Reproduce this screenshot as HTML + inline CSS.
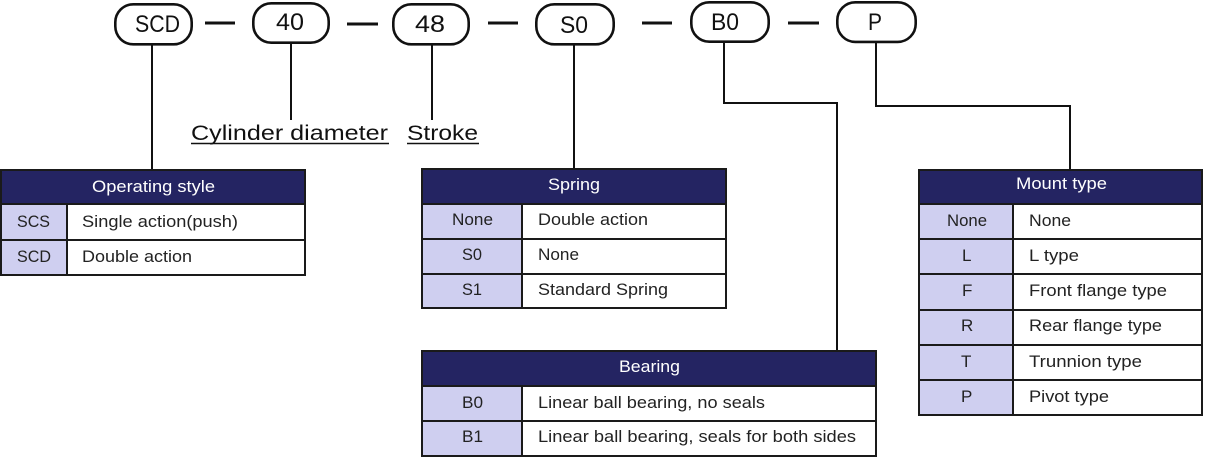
<!DOCTYPE html>
<html>
<head>
<meta charset="utf-8">
<style>
  html,body{margin:0;padding:0;background:#fff;}
  svg{display:block;}
  text{font-family:"Liberation Sans", sans-serif;}
</style>
</head>
<body>
<svg width="1205" height="459" viewBox="0 0 1205 459" xmlns="http://www.w3.org/2000/svg">
  <rect width="1205" height="459" fill="#fff"/>

  <!-- connectors -->
  <g stroke="#111" stroke-width="2" fill="none">
    <line x1="152" y1="45" x2="152" y2="170"/>
    <line x1="291" y1="43" x2="291" y2="120"/>
    <line x1="432" y1="45" x2="432" y2="120"/>
    <line x1="574" y1="45" x2="574" y2="169"/>
    <polyline points="724,42 724,103 837,103 837,351"/>
    <polyline points="876,42 876,106 1070,106 1070,170"/>
  </g>

  <!-- dashes -->
  <g stroke="#111" stroke-width="3">
    <line x1="205" y1="23" x2="235" y2="23"/>
    <line x1="347" y1="24" x2="378" y2="24"/>
    <line x1="488" y1="23" x2="518" y2="23"/>
    <line x1="642" y1="23" x2="672" y2="23"/>
    <line x1="788" y1="23" x2="819" y2="23"/>
  </g>

  <!-- pills -->
  <g stroke="#111" stroke-width="2.6" fill="#fff">
    <rect x="115.3" y="4.3" width="76.4" height="40" rx="18"/>
    <rect x="253.3" y="3.3" width="75.4" height="39.4" rx="18"/>
    <rect x="393.3" y="4.3" width="75.4" height="40" rx="18"/>
    <rect x="536.3" y="4.3" width="77.4" height="40" rx="18"/>
    <rect x="691.3" y="2.3" width="77.4" height="39.4" rx="18"/>
    <rect x="837.3" y="2.3" width="78.4" height="39.6" rx="18"/>
  </g>
  <g font-size="24" fill="#111">
    <text x="135" y="32" textLength="45" lengthAdjust="spacingAndGlyphs">SCD</text>
    <text x="276" y="30" textLength="28" lengthAdjust="spacingAndGlyphs">40</text>
    <text x="415" y="32" textLength="30" lengthAdjust="spacingAndGlyphs">48</text>
    <text x="560" y="33" textLength="28" lengthAdjust="spacingAndGlyphs">S0</text>
    <text x="711" y="30" textLength="28" lengthAdjust="spacingAndGlyphs">B0</text>
    <text x="868" y="30" textLength="14" lengthAdjust="spacingAndGlyphs">P</text>
  </g>

  <!-- labels -->
  <g font-size="21" fill="#111">
    <text x="191" y="140" textLength="197" lengthAdjust="spacingAndGlyphs">Cylinder diameter</text>
    <text x="407" y="140" textLength="71" lengthAdjust="spacingAndGlyphs">Stroke</text>
  </g>
  <g stroke="#111" stroke-width="1.5">
    <line x1="191" y1="143.5" x2="389" y2="143.5"/>
    <line x1="407" y1="143.5" x2="479" y2="143.5"/>
  </g>

  <!-- Operating style table -->
  <rect x="1" y="170" width="304" height="34" fill="#242462"/>
  <rect x="1" y="204" width="66" height="71" fill="#cfcff0"/>
  <g stroke="#1a1a1a" stroke-width="2" fill="none">
    <rect x="1" y="170" width="304" height="105"/>
    <line x1="1" y1="204" x2="305" y2="204"/>
    <line x1="1" y1="240" x2="305" y2="240"/>
    <line x1="67" y1="204" x2="67" y2="275"/>
  </g>
  <g font-size="17" fill="#222">
    <text x="92" y="192" fill="#fff" textLength="123" lengthAdjust="spacingAndGlyphs">Operating style</text>
    <text x="17" y="227" textLength="33" lengthAdjust="spacingAndGlyphs">SCS</text>
    <text x="82" y="227" textLength="156" lengthAdjust="spacingAndGlyphs">Single action(push)</text>
    <text x="17" y="262" textLength="34" lengthAdjust="spacingAndGlyphs">SCD</text>
    <text x="82" y="262" textLength="110" lengthAdjust="spacingAndGlyphs">Double action</text>
  </g>

  <!-- Spring table -->
  <rect x="422" y="169" width="304" height="35" fill="#242462"/>
  <rect x="422" y="204" width="100" height="104" fill="#cfcff0"/>
  <g stroke="#1a1a1a" stroke-width="2" fill="none">
    <rect x="422" y="169" width="304" height="139"/>
    <line x1="422" y1="204" x2="726" y2="204"/>
    <line x1="422" y1="239" x2="726" y2="239"/>
    <line x1="422" y1="274" x2="726" y2="274"/>
    <line x1="522" y1="204" x2="522" y2="308"/>
  </g>
  <g font-size="17" fill="#222">
    <text x="548" y="190" fill="#fff" textLength="52" lengthAdjust="spacingAndGlyphs">Spring</text>
    <text x="452" y="225" textLength="41" lengthAdjust="spacingAndGlyphs">None</text>
    <text x="538" y="225" textLength="110" lengthAdjust="spacingAndGlyphs">Double action</text>
    <text x="462" y="260" textLength="20" lengthAdjust="spacingAndGlyphs">S0</text>
    <text x="538" y="260" textLength="41" lengthAdjust="spacingAndGlyphs">None</text>
    <text x="462" y="295" textLength="20" lengthAdjust="spacingAndGlyphs">S1</text>
    <text x="538" y="295" textLength="130" lengthAdjust="spacingAndGlyphs">Standard Spring</text>
  </g>

  <!-- Bearing table -->
  <rect x="422" y="351" width="454" height="35" fill="#242462"/>
  <rect x="422" y="386" width="100" height="70" fill="#cfcff0"/>
  <g stroke="#1a1a1a" stroke-width="2" fill="none">
    <rect x="422" y="351" width="454" height="105"/>
    <line x1="422" y1="386" x2="876" y2="386"/>
    <line x1="422" y1="421" x2="876" y2="421"/>
    <line x1="522" y1="386" x2="522" y2="456"/>
  </g>
  <g font-size="17" fill="#222">
    <text x="619" y="372" fill="#fff" textLength="61" lengthAdjust="spacingAndGlyphs">Bearing</text>
    <text x="462" y="408" textLength="21" lengthAdjust="spacingAndGlyphs">B0</text>
    <text x="538" y="408" textLength="227" lengthAdjust="spacingAndGlyphs">Linear ball bearing, no seals</text>
    <text x="462" y="442" textLength="21" lengthAdjust="spacingAndGlyphs">B1</text>
    <text x="538" y="442" textLength="318" lengthAdjust="spacingAndGlyphs">Linear ball bearing, seals for both sides</text>
  </g>

  <!-- Mount type table -->
  <rect x="919" y="170" width="283" height="34" fill="#242462"/>
  <rect x="919" y="204" width="94" height="211" fill="#cfcff0"/>
  <g stroke="#1a1a1a" stroke-width="2" fill="none">
    <rect x="919" y="170" width="283" height="245"/>
    <line x1="919" y1="204" x2="1202" y2="204"/>
    <line x1="919" y1="239" x2="1202" y2="239"/>
    <line x1="919" y1="274" x2="1202" y2="274"/>
    <line x1="919" y1="310" x2="1202" y2="310"/>
    <line x1="919" y1="345" x2="1202" y2="345"/>
    <line x1="919" y1="380" x2="1202" y2="380"/>
    <line x1="1013" y1="204" x2="1013" y2="415"/>
  </g>
  <g font-size="17" fill="#222">
    <text x="1016" y="189" fill="#fff" textLength="91" lengthAdjust="spacingAndGlyphs">Mount type</text>
    <text x="947" y="226" textLength="40" lengthAdjust="spacingAndGlyphs">None</text>
    <text x="1029" y="226" textLength="42" lengthAdjust="spacingAndGlyphs">None</text>
    <text x="962" y="261">L</text>
    <text x="1029" y="261" textLength="50" lengthAdjust="spacingAndGlyphs">L type</text>
    <text x="962" y="296">F</text>
    <text x="1029" y="296" textLength="138" lengthAdjust="spacingAndGlyphs">Front flange type</text>
    <text x="961" y="331">R</text>
    <text x="1029" y="331" textLength="133" lengthAdjust="spacingAndGlyphs">Rear flange type</text>
    <text x="961" y="367">T</text>
    <text x="1029" y="367" textLength="113" lengthAdjust="spacingAndGlyphs">Trunnion type</text>
    <text x="961" y="402">P</text>
    <text x="1029" y="402" textLength="80" lengthAdjust="spacingAndGlyphs">Pivot type</text>
  </g>
</svg>
</body>
</html>
